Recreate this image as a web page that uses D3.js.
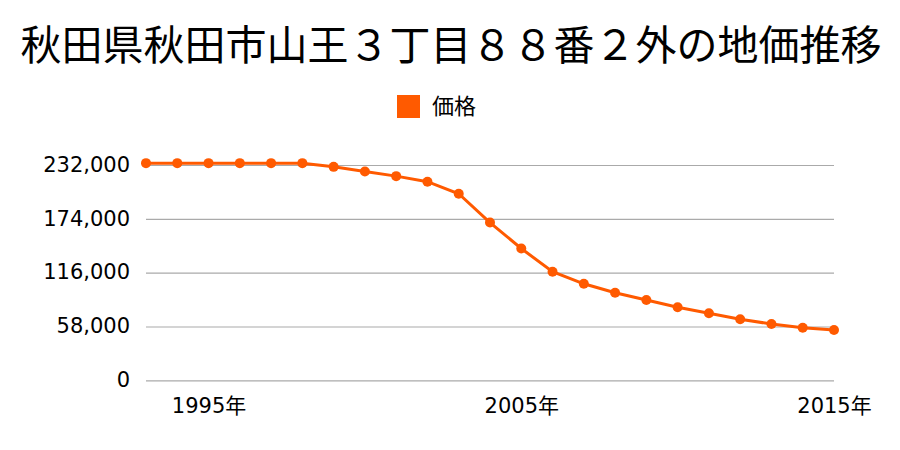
<!DOCTYPE html>
<html><head><meta charset="utf-8">
<script src="https://cdn.jsdelivr.net/npm/d3@7"></script>
<style>body{margin:0;background:#fff}</style>
</head><body>
<svg id="c" width="900" height="450"></svg>
<script>
const title = "秋田県秋田市山王３丁目８８番２外の地価推移";
const seriesName = "価格";
const years = [1993,1994,1995,1996,1997,1998,1999,2000,2001,2002,2003,2004,2005,2006,2007,2008,2009,2010,2011,2012,2013,2014,2015];
const prices = [234000,234000,234000,234000,234000,234000,230000,225000,220000,214000,201000,170000,142000,117000,104000,94400,86500,78700,72200,65700,60700,56700,54200];
const yTicks = [0,58000,116000,174000,232000];
const xTicks = [1995,2005,2015];

const svg = d3.select("#c");
const font = "'Noto Sans CJK JP', sans-serif";
const numFont = "'DejaVu Sans', 'Noto Sans CJK JP', sans-serif";
const x = d3.scaleLinear().domain([1993,2015]).range([146,834]);
const y = d3.scaleLinear().domain([0,232000]).range([380.3,165]);

svg.append("text").attr("x",451).attr("y",60).attr("text-anchor","middle")
  .attr("font-family",font).attr("font-size",41).attr("fill","#000").text(title);

svg.append("rect").attr("x",397).attr("y",95).attr("width",23).attr("height",23).attr("fill","#ff5a00");
svg.append("text").attr("x",432).attr("y",114).attr("font-family",font).attr("font-size",22).text(seriesName);

const gy = svg.append("g").attr("transform","translate(146,0)")
  .call(d3.axisLeft(y).tickValues(yTicks).tickSize(-688).tickFormat(d3.format(",")));
gy.select(".domain").remove();
gy.selectAll(".tick line").attr("stroke","#aaa").attr("stroke-width",1.2);
gy.selectAll(".tick text").attr("x",-16).attr("dy","0.3em").attr("font-family",numFont).attr("font-size",21).attr("fill","#000");

const gx = svg.append("g").attr("transform","translate(0,380)")
  .call(d3.axisBottom(x).tickValues(xTicks).tickSize(0).tickFormat(d=>d+"年"));
gx.select(".domain").remove();
gx.selectAll(".tick text").attr("y",18).attr("font-family",numFont).attr("font-size",21).attr("fill","#000");

const data = years.map((yr,i)=>({yr,v:prices[i]}));
svg.append("path").datum(data).attr("fill","none").attr("stroke","#ff5a00").attr("stroke-width",3)
  .attr("d",d3.line().x(d=>x(d.yr)).y(d=>y(d.v)));
svg.selectAll("circle.pt").data(data).enter().append("circle").attr("class","pt")
  .attr("cx",d=>x(d.yr)).attr("cy",d=>y(d.v)).attr("r",5).attr("fill","#ff5a00");
</script>
</body></html>
